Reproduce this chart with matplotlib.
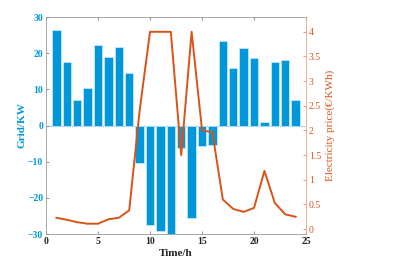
import matplotlib
matplotlib.use("Agg")
import matplotlib.pyplot as plt

hours = list(range(1, 25))
grid_kw = [26.4, 17.5, 7.0, 10.4, 22.2, 18.9, 21.8, 14.5, -10.3, -27.6, -29.1, -29.9,
           -6.1, -25.5, -5.7, -5.3, 23.3, 15.8, 21.5, 18.7, 1.1, 17.7, 18.1, 7.0]
price = [0.23, 0.19, 0.14, 0.11, 0.11, 0.20, 0.23, 0.38, 2.4, 4.0, 4.0, 4.0,
         1.5, 4.0, 2.01, 1.96, 0.60, 0.41, 0.35, 0.43, 1.18, 0.53, 0.30, 0.25]

blue = '#0098DA'
orange = '#D95319'
grey = '#9A9A9A'

plt.rcParams['font.family'] = ['Liberation Serif', 'DejaVu Serif']

fig = plt.figure(figsize=(3.99, 2.77), dpi=100)
ax = fig.add_axes([0.1153, 0.155, 0.6517, 0.7836])
ax.bar(hours, grid_kw, width=0.8, color=blue, edgecolor='#CFEAF7', linewidth=0.5, zorder=2)
ax.axhline(0, color='#A8D8F0', linewidth=0.8, zorder=1)
ax.set_xlim(0, 25)
ax.set_ylim(-30, 30)
ax.set_xticks([0, 5, 10, 15, 20, 25])
ax.set_yticks([-30, -20, -10, 0, 10, 20, 30])
ax.tick_params(axis='x', direction='in', length=2.5, labelsize=7, colors=grey, labelcolor='#222222', top=True, pad=2)
ax.tick_params(axis='y', direction='in', length=2.5, labelsize=7, colors=grey, labelcolor=blue, pad=2)
for lab in ax.get_xticklabels() + ax.get_yticklabels():
    lab.set_fontweight('bold')
for s in ['left', 'bottom', 'top']:
    ax.spines[s].set_color(grey)
    ax.spines[s].set_linewidth(0.6)
ax.spines['right'].set_visible(False)
ax.set_xlabel('Time/h', fontsize=8, fontweight='bold', color='#222222', labelpad=2)
ax.set_ylabel('Grid/KW', fontsize=8, fontweight='bold', color=blue, labelpad=1)

ax2 = ax.twinx()
ax2.plot(hours, price, color=orange, linewidth=1.4, zorder=3)
ax2.set_ylim(-0.1, 4.3)
ax2.set_yticks([0, 0.5, 1, 1.5, 2, 2.5, 3, 3.5, 4])
ax2.set_yticklabels(['0', '0.5', '1', '1.5', '2', '2.5', '3', '3.5', '4'])
ax2.tick_params(axis='y', direction='in', length=2.5, labelsize=7, colors='#F0A080', labelcolor=orange, pad=2)
ax2.spines['right'].set_color('#F0A080')
ax2.spines['right'].set_linewidth(0.6)
for s in ['left', 'bottom', 'top']:
    ax2.spines[s].set_visible(False)
ax2.set_ylabel('Electricity price(€/KWh)', fontsize=8, color=orange, labelpad=3)

fig.savefig('out.png', dpi=100)
